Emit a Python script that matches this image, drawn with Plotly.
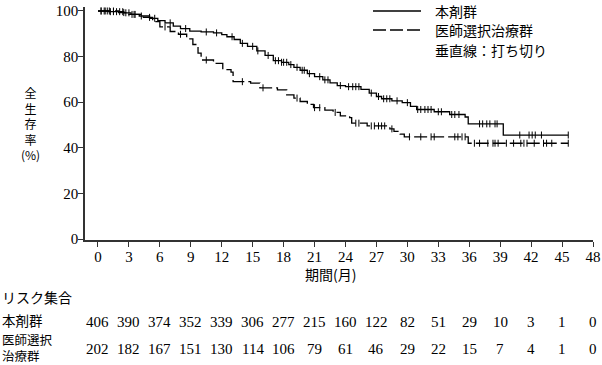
import plotly.graph_objects as go
import numpy as np

# ---------------- data ----------------
x_ticks = list(range(0, 49, 3))
y_ticks = [0, 20, 40, 60, 80, 100]

# 本剤群 (step function: time in months, survival %)
t_a = [0, 1.0, 2.5, 3.2, 4.0, 5.0, 5.8, 6.5, 7.3, 8.0, 8.9, 10.0, 11.2, 12.0, 12.5,
       13.2, 13.8, 14.5, 15.4, 16.2, 17.0, 17.8, 18.5, 19.0, 19.6, 20.3, 21.0, 21.8,
       22.5, 23.2, 24.0, 25.5, 26.3, 27.0, 27.5, 28.5, 29.5, 30.3, 30.9, 32.6, 34.1,
       35.6, 35.9, 39.3, 45.6]
s_a = [100, 99.7, 99.2, 98.5, 97.8, 96.8, 95.8, 94.8, 93.4, 92.3, 91.2, 90.8, 90.4, 89.6,
       88.7, 87.5, 85.8, 84.5, 82.5, 80.5, 78.2, 77.5, 76.5, 75.3, 74.0, 72.5, 71.2, 69.8,
       68.5, 67.3, 66.8, 65.6, 64.0, 62.5, 61.5, 60.6, 59.8, 58.2, 56.8, 55.8, 54.6,
       53.5, 50.5, 45.6, 45.6]
cens_a = [0.3, 0.6, 0.9, 1.2, 1.5, 1.8, 2.1, 2.4, 2.7, 3.0, 3.3, 3.6, 4.2, 5.5, 7.0, 8.5,
          10.5, 11.5, 13.0, 14.0, 15.0, 15.5, 16.5, 17.2, 17.5, 17.8, 18.0, 18.3, 18.7,
          19.3, 19.8, 20.0, 20.5, 21.5, 22.0, 22.3, 23.5, 24.3, 24.7, 25.0, 25.3, 26.5,
          27.2, 27.7, 28.0, 28.3, 29.0, 30.0, 31.0, 31.3, 31.7, 32.0, 32.3, 33.0, 33.3,
          34.3, 34.6, 35.0, 37.0, 37.3, 37.7, 38.0, 38.5, 38.7, 40.9, 41.8, 42.1, 42.4,
          43.0, 45.6]

# 医師選択治療群
t_b = [0, 2.0, 3.0, 4.4, 5.3, 6.0, 7.0, 7.8, 8.6, 9.2, 9.7, 10.0, 11.2, 12.1, 12.9, 13.1,
       14.8, 15.7, 17.4, 18.3, 19.0, 19.6, 20.3, 20.9, 22.0, 22.8, 23.5, 24.4, 24.6, 26.1,
       28.3, 28.7, 29.3, 29.7, 35.9, 45.6]
s_b = [100, 99.3, 98.5, 97.2, 95.3, 93.0, 91.0, 89.8, 87.8, 85.3, 81.5, 78.5, 77.0, 74.3,
       73.2, 69.0, 68.4, 66.3, 65.4, 63.2, 61.8, 60.3, 59.0, 57.6, 56.5, 55.5, 54.0, 53.2,
       50.8, 49.6, 48.3, 47.2, 46.0, 44.8, 42.0, 42.0]
cens_b = [0.3, 0.7, 1.1, 1.5, 2.5, 3.5, 5.0, 6.5, 8.0, 10.5, 14.0, 16.0, 19.3, 21.0, 21.5,
          23.0, 25.0, 25.3, 26.5, 26.8, 27.2, 27.5, 27.8, 28.5, 30.2, 31.3, 32.3, 32.6,
          34.6, 34.9, 35.3, 35.6, 36.5, 37.0, 37.8, 38.3, 38.5, 38.8, 39.6, 40.3, 41.0,
          41.3, 41.6, 42.3, 43.2, 43.5, 44.0, 45.6]

risk_a = [406, 390, 374, 352, 339, 306, 277, 215, 160, 122, 82, 51, 29, 10, 3, 1, 0]
risk_b = [202, 182, 167, 151, 130, 114, 106, 79, 61, 46, 29, 22, 15, 7, 4, 1, 0]

name_a = "本剤群"
name_b = "医師選択治療群"
name_b_lines = ["医師選択", "治療群"]
ytitle_chars = ["全", "生", "存", "率", "(%)"]

# ---------------- figure ----------------
W, H = 602, 365
ML, MR, MT, MB = 85, 9, 7, 125
PW, PH = W - ML - MR, H - MT - MB

def px_x(p):
    return (p - ML) / PW

def px_y(p):
    return (H - MB - p) / PH

def step_val(ts, ss, c):
    i = np.searchsorted(ts, c, side="right") - 1
    return ss[max(i, 0)]

JP = "Noto Sans CJK JP"
SERIF = "Liberation Serif"
DASH = "13px,4px"

fig = go.Figure()
fig.add_trace(go.Scatter(x=t_a, y=s_a, mode="lines", line=dict(color="black", width=1.3, shape="hv"),
                         showlegend=False, hoverinfo="skip"))
fig.add_trace(go.Scatter(x=t_b, y=s_b, mode="lines",
                         line=dict(color="black", width=1.3, shape="hv", dash=DASH),
                         showlegend=False, hoverinfo="skip"))
fig.add_trace(go.Scatter(x=cens_a, y=[step_val(t_a, s_a, c) for c in cens_a], mode="markers",
                         marker=dict(symbol="line-ns", size=5, line=dict(color="black", width=1)),
                         showlegend=False, hoverinfo="skip"))
fig.add_trace(go.Scatter(x=cens_b, y=[step_val(t_b, s_b, c) for c in cens_b], mode="markers",
                         marker=dict(symbol="line-ns", size=5, line=dict(color="black", width=1)),
                         showlegend=False, hoverinfo="skip"))

axis_common = dict(showline=True, linecolor="#333", linewidth=1.6, ticks="outside", ticklen=5,
                   tickwidth=1.3, tickcolor="#333", showgrid=False, zeroline=False,
                   tickfont=dict(family=SERIF, size=15, color="black"))
fig.update_xaxes(range=[-1.26, 48.0], tickvals=x_ticks, ticktext=[str(v) for v in x_ticks],
                 ticklabelstandoff=-3, **axis_common)
fig.update_yaxes(range=[-0.44, 101.75], tickvals=y_ticks, ticktext=[str(v) for v in y_ticks],
                 ticklabelstandoff=-3, **axis_common)

def txt(xp, yp, text, anchor="left", family=JP, size=14, xref="paper", align="center"):
    return dict(x=xp, y=px_y(yp), xref=xref, yref="paper", xanchor=anchor, yanchor="middle",
                text=text, showarrow=False, align=align,
                font=dict(family=family, size=size, color="black"))

ann = []
# y-axis title (vertical, one character per line)
ann.append(txt(px_x(30), 124, "<br>".join(ytitle_chars), anchor="center", size=12))
# x-axis title
ann.append(txt(px_x(330), 274, "期間(月)", anchor="center"))
# legend
ann.append(txt(px_x(433), 11, name_a))
ann.append(txt(px_x(433), 30, name_b))
ann.append(txt(px_x(433), 50, "垂直線：打ち切り"))
# risk table labels
ann.append(txt(px_x(0), 297, "リスク集合"))
ann.append(txt(px_x(0), 320, name_a, size=13.5))
ann.append(txt(px_x(0), 347, "<br>".join(name_b_lines), size=12.5, align="left"))
for xv, ra, rb in zip(x_ticks, risk_a, risk_b):
    ann.append(txt(xv, 322, str(ra), anchor="center", family=SERIF, size=15, xref="x"))
    ann.append(txt(xv, 349, str(rb), anchor="center", family=SERIF, size=15, xref="x"))

shapes = [
    dict(type="line", xref="paper", yref="paper", x0=px_x(373), x1=px_x(421), y0=px_y(11), y1=px_y(11),
         line=dict(color="black", width=1.3)),
    dict(type="line", xref="paper", yref="paper", x0=px_x(373), x1=px_x(421), y0=px_y(30), y1=px_y(30),
         line=dict(color="black", width=1.3, dash=DASH)),
]

fig.update_layout(width=W, height=H, margin=dict(l=ML, r=MR, t=MT, b=MB, autoexpand=False),
                  plot_bgcolor="white", paper_bgcolor="white", annotations=ann, shapes=shapes)

fig.write_html("out.html", config={"displayModeBar": False},
               post_script="document.body.style.margin='0';")
